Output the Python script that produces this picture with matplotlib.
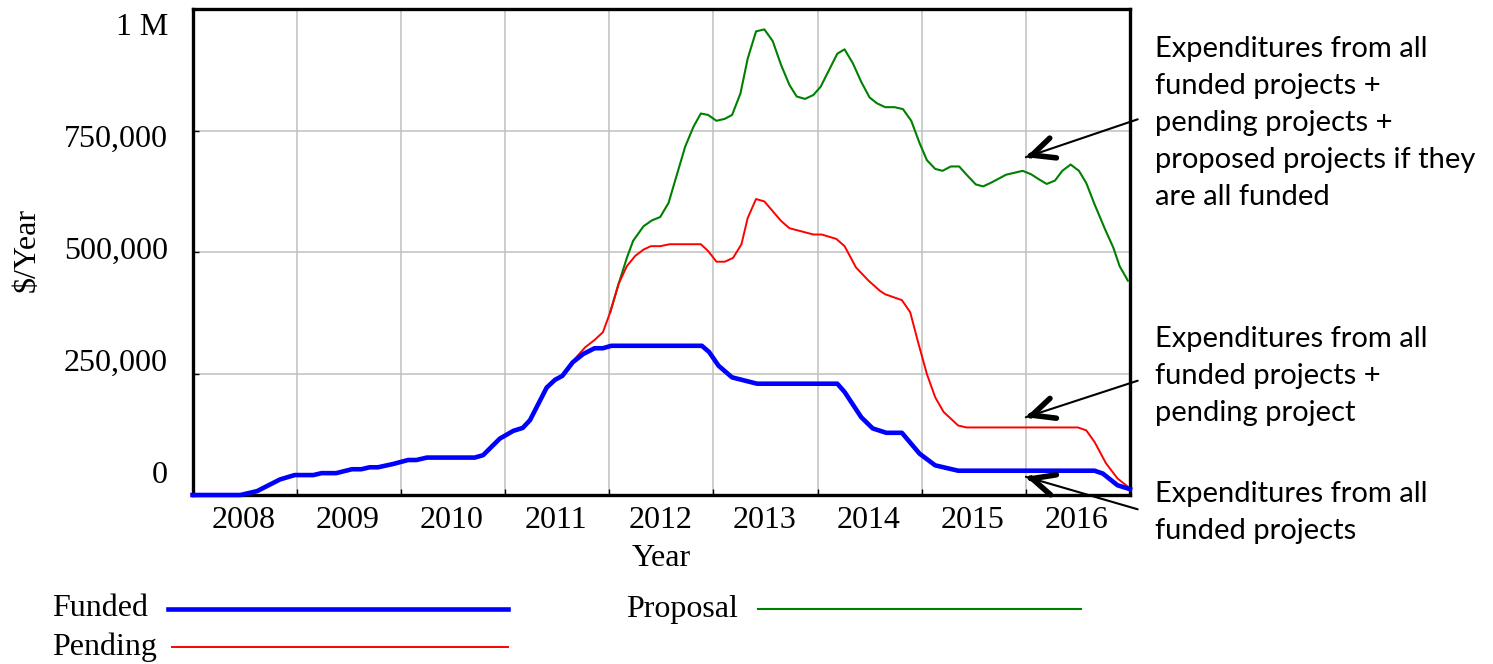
import matplotlib
matplotlib.use("Agg")
import numpy as np
from matplotlib import pyplot as plt
from matplotlib.lines import Line2D
from matplotlib.transforms import blended_transform_factory

# Datos (tiempo en anios, valores en $/Year)
funded_t = [2008.0, 2008.46, 2008.62, 2008.84, 2008.98, 2009.16, 2009.24, 2009.38, 2009.53,
            2009.62, 2009.70, 2009.78, 2009.93, 2010.07, 2010.15, 2010.25, 2010.71, 2010.79,
            2010.95, 2011.08, 2011.17, 2011.24, 2011.40, 2011.48, 2011.55, 2011.65, 2011.75,
            2011.86, 2011.94, 2012.02, 2012.89, 2012.96, 2013.05, 2013.18, 2013.42, 2014.19,
            2014.26, 2014.42, 2014.53, 2014.66, 2014.81, 2014.98, 2015.13, 2015.35, 2016.66,
            2016.74, 2016.88, 2017.0]
funded_v = [0, 0, 8, 32, 41, 41, 45, 45, 53, 53, 57, 57, 64, 72, 72, 77, 77, 82, 116, 132, 138,
            154, 221, 237, 245, 273, 290, 302, 302, 307, 307, 294, 266, 242, 229, 229, 212, 160,
            137, 128, 128, 85, 61, 50, 50, 44, 20, 12]

pending_t = [2011.40, 2011.48, 2011.55, 2011.67, 2011.77, 2011.86, 2011.94, 2012.01, 2012.09,
             2012.17, 2012.25, 2012.33, 2012.40, 2012.49, 2012.58, 2012.88, 2012.95, 2013.03,
             2013.11, 2013.19, 2013.27, 2013.33, 2013.41, 2013.49, 2013.57, 2013.65, 2013.73,
             2013.96, 2014.04, 2014.18, 2014.26, 2014.37, 2014.49, 2014.60, 2014.65, 2014.81,
             2014.89, 2014.97, 2015.05, 2015.13, 2015.21, 2015.35, 2015.43, 2016.50, 2016.58,
             2016.66, 2016.77, 2016.88, 2016.98]
pending_v = [221, 237, 245, 280, 304, 319, 335, 376, 434, 471, 492, 505, 512, 512, 516, 516, 502,
             480, 480, 488, 516, 570, 609, 604, 584, 564, 549, 536, 536, 527, 512, 468, 441, 420,
             413, 401, 376, 311, 249, 201, 171, 143, 139, 139, 133, 109, 65, 34, 17]

proposal_t = [2012.01, 2012.09, 2012.17, 2012.23, 2012.33, 2012.41, 2012.49, 2012.57, 2012.65,
              2012.73, 2012.81, 2012.88, 2012.95, 2013.03, 2013.11, 2013.18, 2013.26, 2013.33,
              2013.41, 2013.49, 2013.57, 2013.65, 2013.73, 2013.80, 2013.88, 2013.96, 2014.03,
              2014.11, 2014.19, 2014.26, 2014.34, 2014.42, 2014.50, 2014.57, 2014.65, 2014.74,
              2014.82, 2014.90, 2014.98, 2015.05, 2015.13, 2015.20, 2015.28, 2015.36, 2015.44,
              2015.52, 2015.59, 2015.67, 2015.81, 2015.97, 2016.05, 2016.13, 2016.20, 2016.28,
              2016.35, 2016.43, 2016.51, 2016.58, 2016.66, 2016.76, 2016.84, 2016.90, 2016.98]
proposal_v = [376, 434, 488, 523, 553, 565, 572, 601, 659, 717, 758, 785, 782, 770, 774, 782, 826,
              898, 954, 958, 934, 885, 844, 820, 815, 823, 840, 874, 908, 917, 888, 850, 818, 806,
              798, 798, 794, 770, 724, 689, 671, 667, 676, 676, 657, 639, 635, 643, 659, 667, 660,
              649, 640, 647, 667, 680, 667, 642, 598, 547, 509, 471, 441]

years = [2008, 2009, 2010, 2011, 2012, 2013, 2014, 2015, 2016]
y_labels = ["0", "250,000", "500,000", "750,000", "1 M"]

notas = [
    ["Expenditures from all", "funded projects +", "pending projects +",
     "proposed projects if they", "are all funded"],
    ["Expenditures from all", "funded projects +", "pending project"],
    ["Expenditures from all", "funded projects"],
]
# punta de cada flecha (anio, $/Year)
flechas_xy = [(2016.0, 695000), (2016.0, 160000), (2016.0, 37500)]

serif = "Liberation Serif"
W, H = 1493, 664

fig = plt.figure(figsize=(W / 100, H / 100), dpi=100)
ax = fig.add_axes([192.5 / W, 1 - 495 / H, (1130 - 192.5) / W, (495 - 9) / H])

ax.plot(proposal_t, np.array(proposal_v) * 1000, color="#008000", lw=1.5, zorder=3)
ax.plot(pending_t, np.array(pending_v) * 1000, color="#ff0000", lw=1.4, zorder=3)
ax.plot(funded_t, np.array(funded_v) * 1000, color="#0000ff", lw=3.3, zorder=3,
        clip_on=False, solid_joinstyle="round")

ax.set_xlim(2008, 2017)
ax.set_ylim(0, 1000000)
ax.set_xticks(range(2009, 2017))
ax.set_yticks([250000, 500000, 750000])
ax.grid(True, color="#c0c0c0", lw=1.1)
ax.set_axisbelow(True)
ax.tick_params(direction="in", length=4, width=1, labelbottom=False, labelleft=False)
for s in ax.spines.values():
    s.set_linewidth(2.4)
    s.set_color("black")

# etiquetas de los ejes
tr_x = blended_transform_factory(ax.transData, fig.transFigure)
for yr in years:
    ax.text(yr + 0.49, 1 - 521 / H, str(yr), transform=tr_x, ha="center", va="center",
            fontsize=23, family=serif)

tr_y = blended_transform_factory(fig.transFigure, ax.transAxes)
for i, lab in enumerate(y_labels):
    ax.text(168 / W, 0.041 + i * 0.23, lab, transform=tr_y, ha="right", va="center",
            fontsize=23, family=serif)

fig.text(27.5 / W, 1 - 250 / H, "$/Year", rotation=90, ha="center", va="center",
         fontsize=23, family=serif)
fig.text(661 / W, 1 - 558 / H, "Year", ha="center", va="center", fontsize=23, family=serif)

# leyenda hecha a mano
leyenda = [("Funded", "#0000ff", 3.3, 52, 168, 508, 609),
           ("Pending", "#ff0000", 1.4, 52, 172, 508, 647),
           ("Proposal", "#008000", 1.5, 626, 758, 1081, 609)]
for nombre, color, lw, xt, x0, x1, yy in leyenda:
    fig.text(xt / W, 1 - yy / H, nombre, ha="left", va="center", fontsize=23, family=serif)
    fig.add_artist(Line2D([x0 / W, x1 / W], [1 - yy / H, 1 - yy / H], color=color, lw=lw,
                          transform=fig.transFigure))

# notas a la derecha
bases = [56.7, 347, 502]
for lineas, b in zip(notas, bases):
    for k, linea in enumerate(lineas):
        fig.text(1155 / W, 1 - (b + k * 37.1) / H, linea, ha="left", va="baseline",
                 fontsize=21, family="Lato")

colas = [(1137.7, 119.3), (1137.7, 380.7), (1137.7, 509.3)]
for (tx, ty), xy in zip(colas, flechas_xy):
    cola = (tx / W, 1 - ty / H)
    ax.annotate("", xy=xy, xycoords="data", xytext=cola, textcoords="figure fraction",
                arrowprops=dict(arrowstyle="-", lw=1.5, color="black", shrinkA=0, shrinkB=0),
                annotation_clip=False)
    p_tip = ax.transData.transform(xy)
    p_tail = fig.transFigure.transform(cola)
    d = (p_tail - p_tip) / np.hypot(*(p_tail - p_tip))
    p0 = p_tip + d * 6
    ax.annotate("", xy=xy, xycoords="data", xytext=(p0[0], p0[1]), textcoords="figure pixels",
                arrowprops=dict(arrowstyle="->,head_length=1.6,head_width=0.75", lw=4,
                                color="black", shrinkA=0, shrinkB=0, mutation_scale=10),
                annotation_clip=False)

fig.savefig("out.png", dpi=100)
